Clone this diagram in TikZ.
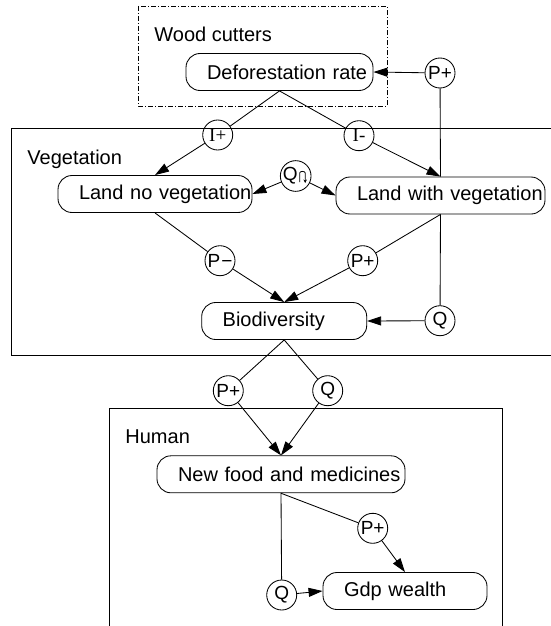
\documentclass[tikz,border=0pt]{standalone}
\usepackage{fontspec}
\setmainfont{Liberation Sans}
\newfontfamily\serifI{Liberation Serif}
\usetikzlibrary{arrows.meta}

\tikzset{
  qty/.style={draw, rounded corners=14pt, minimum height=37pt, inner ysep=0pt,
              inner xsep=21pt, align=left, text width=#1, font=\fontsize{20}{22}\selectfont},
  dep/.style={draw, circle, minimum size=30pt, inner sep=0pt, font=\fontsize{19}{20}\selectfont},
  frame/.style={font=\fontsize{20}{22}\selectfont, anchor=base west, inner sep=0pt},
  link/.style={line width=0.85pt},
  flow/.style={line width=0.85pt, -{Triangle[length=14pt,width=9pt]}}
}

\begin{document}
\begin{tikzpicture}[x=1pt,y=-1pt,line width=0.85pt]
\useasboundingbox (0,0) rectangle (551,626);
\clip (0,0) rectangle (551,626);

% entity frames
\draw[link, dash pattern=on 5pt off 2pt on 1pt off 2pt] (138,6) rectangle (387,106);
\draw[link] (11.5,128.5) rectangle (570,355.5);
\draw[link] (109.5,408.3) rectangle (502.7,650);
\node[frame] (woodlbl) at (154,42) {Wood cutters};
\node[frame] (veglbl) at (27,164) {Vegetation};
\node[frame] (humanlbl) at (125,443) {Human};

% quantities
\node[qty=145pt] (defo) at (279.5,72) {\mbox{Deforestation rate}};
\node[qty=152pt] (lnv) at (155,194) {\mbox{Land no vegetation}};
\node[qty=167pt] (lwv) at (440.5,195.5) {\mbox{Land with vegetation}};
\node[qty=123pt] (bio) at (284.2,321) {\mbox{Biodiversity}};
\node[qty=206pt] (food) at (281,474.3) {\mbox{New food and medicines}};
\node[qty=122pt] (gdp) at (405,591) {\mbox{Gdp wealth}};

% dependencies
\node[dep] (pdefo) at (440,73) {P+};
\node[dep] (iplus) at (217.7,135) {\serifI I+};
\node[dep] (iminus) at (359,135.7) {\serifI I-};
\node[dep] (qcorr) at (295.7,176) {Q\kern11pt};
\draw[line width=0.8pt, -{Stealth[length=3.5pt,width=3.5pt]}]
  ([shift={(4,6)}]qcorr.center) -- ([shift={(4,-3)}]qcorr.center)
  to[out=90,in=90] ([shift={(9.5,-3)}]qcorr.center) -- ([shift={(9.5,7)}]qcorr.center);
\node[dep] (pminus) at (220,260.7) {P\kern1pt−};
\node[dep] (pplusbio) at (362.7,260.7) {P+};
\node[dep] (qbio) at (440,320.7) {Q};
\node[dep] (pplusfood) at (228.3,390.7) {P+};
\node[dep] (qfood) at (327.7,390.7) {Q};
\node[dep] (pplusgdp) at (372.7,528.3) {P+};
\node[dep] (qgdp) at (281.7,595) {Q};

% connectors
\draw[link] (lwv.north) -- (pdefo);
\draw[flow] (pdefo) -- (defo.east);
\draw[link] (defo.south) -- (iplus);
\draw[flow] (iplus) -- (lnv.north);
\draw[link] (defo.south) -- (iminus);
\draw[flow] (iminus) -- (lwv.north);
\draw[flow] (qcorr) -- (lnv.east);
\draw[flow] (qcorr) -- (lwv.west);
\draw[link] (lnv.south) -- (pminus);
\draw[flow] (pminus) -- (bio.north);
\draw[link] (lwv.south) -- (pplusbio);
\draw[flow] (pplusbio) -- (bio.north);
\draw[link] (lwv.south) -- (qbio);
\draw[flow] (qbio) -- (bio.east);
\draw[link] (bio.south) -- (pplusfood);
\draw[flow] (pplusfood) -- (food.north);
\draw[link] (bio.south) -- (qfood);
\draw[flow] (qfood) -- (food.north);
\draw[link] (food.south) -- (pplusgdp);
\draw[flow] (pplusgdp) -- (gdp.north);
\draw[link] (food.south) -- (qgdp);
\draw[flow] (qgdp) -- (gdp.west);
\end{tikzpicture}
\end{document}
